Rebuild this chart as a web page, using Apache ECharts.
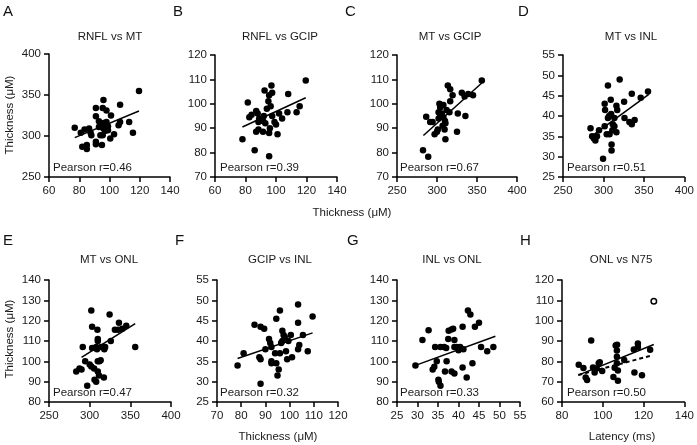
<!DOCTYPE html>
<html>
<head>
<meta charset="utf-8">
<script src="https://cdn.jsdelivr.net/npm/echarts@6/dist/echarts.min.js"></script>
<style>
html,body{margin:0;padding:0;background:#fff;}
#chart{width:697px;height:445px;}
</style>
</head>
<body>
<div id="chart"></div>
<script>
// ---------- data ----------
const panelLetters = ['A','B','C','D','E','F','G','H'];
const panelTitles = ['RNFL vs MT','RNFL vs GCIP','MT vs GCIP','MT vs INL','MT vs ONL','GCIP vs INL','INL vs ONL','ONL vs N75'];
const pearsonTexts = ['Pearson r=0.46','Pearson r=0.39','Pearson r=0.67','Pearson r=0.51','Pearson r=0.47','Pearson r=0.32','Pearson r=0.33','Pearson r=0.50'];
const xRanges = [[60,140,20],[60,140,20],[250,400,50],[250,400,50],[250,400,50],[70,120,10],[25,55,5],[80,140,20]];
const yRanges = [[250,400,50],[70,120,10],[70,120,10],[25,55,5],[80,140,10],[25,55,5],[80,140,10],[60,120,10]];
const yAxisName = 'Thickness (μM)';
const xAxisNameThickness = 'Thickness (μM)';
const xAxisNameLatency = 'Latency (ms)';

const rnflVsMt = [[77,310],[81,304],[83.5,308],[86.5,309],[87.5,304],[88,301],[82,287],[85,289],[85,284],[91,293],[91,290],[95,289],[91,334],[95.5,334],[96,344],[98,331],[107,338],[91,324],[101,325],[93,318],[96,316],[98,317],[95,313],[93,311],[96,309],[97,311],[98,310],[99,312],[97,306],[99,307],[95.5,301],[100.5,297],[103,302],[106,313],[107,317],[113,317],[115.5,304],[119.5,355],[94,301]];
const rnflVsGcip = [[78,85.5],[81.5,100.5],[82.5,94.5],[84,95.5],[87,97],[88,96],[86,81],[88.5,92.5],[87,88.5],[88.5,89.5],[91.5,93],[91.5,88.5],[92.5,105.5],[92,95],[94,98],[95,101],[95.5,103.5],[96,90],[95.5,88],[95.5,78.5],[97,107.5],[97.5,104.5],[96.5,99],[97.5,95],[99,92.5],[100,91.5],[101,87.5],[102,96],[104,94],[107.5,96.5],[108,104],[113.5,96.5],[115.5,99],[119.5,109.5],[89,94],[93,92]];
const mtVsGcip = [[282.5,81],[289,78.3],[286.5,94.7],[291.5,92.5],[294.5,92.5],[297,87.5],[300,88.5],[301,89.5],[303,100],[304,98.5],[306,99.5],[302,96.5],[304,95.5],[302,94],[308,99.5],[306,96],[308,94.5],[310,93],[310.5,92],[309.5,89.5],[310.5,85.5],[313.5,107.5],[316.5,106],[319.5,103.5],[316.5,101],[315.5,96.5],[312,97.5],[325,88.5],[326,96],[331,104.5],[334.5,103],[335.5,95],[339,104],[345,103.5],[356,109.5],[307,91]];
const mtVsInl = [[284,37],[286,35],[288,34.5],[290,34],[292,35],[294.5,36.5],[299.5,29.5],[301.5,43],[302,41.5],[301.5,37.5],[304,35.5],[307.5,35.5],[305.5,47.5],[305.5,39.5],[309,44],[309.5,40.5],[310,33],[310,31.5],[311.5,38],[313.5,37.5],[313.5,39.5],[316,36],[316,42.5],[317,41.5],[320,49],[325.5,43.5],[326,39.5],[332,38.5],[335,45.5],[335,38],[338.5,39],[346,44.5],[355,46],[307,40],[311,36.5]];
const mtVsOnl = [[283.5,95],[287.5,96.5],[290,96],[291.5,107],[294.5,100],[297,88],[300,98.5],[302,97.5],[302,125],[303,117],[303,106.5],[305.5,96.5],[308,107],[309,106],[309.5,115.5],[306,91],[308,90],[310,95],[311.5,93],[310,100],[312,100],[313.5,100.5],[310,111],[310,110],[314,107],[316,107],[318,106],[319,107],[317.5,92],[324.5,123],[326,110],[331,115.5],[335,115.5],[336,119],[340,116],[345,117.5],[356,107]];
const gcipVsInl = [[78.5,34],[81,37],[85.5,44],[87.5,36],[88,35.5],[88,43.5],[89.5,43],[88,29.5],[90,38],[91.5,40.5],[92,39.5],[92.5,38.5],[92.5,35],[92.5,34.5],[94,37],[94.5,34.5],[94.5,45.5],[95,31.5],[95.5,33],[96,47.5],[96,37],[96.5,39.5],[97,40],[97,42.5],[97.5,41.5],[98,41],[98.5,37.5],[99,35.5],[99.5,40],[100.5,41.5],[101,36],[103.5,49],[103.5,44.5],[103.5,38],[104,39],[105.5,41.5],[107.5,37.5],[109.5,46]];
const inlVsOnl = [[29.5,98],[31.2,110.5],[32.7,115.3],[33.7,96],[34.1,97.3],[34.3,107],[34.7,100],[35.1,91],[35.2,90],[35.6,88],[35.6,107],[36.5,107],[36.7,95],[37,106.5],[37.1,100],[37.5,111],[37.6,115],[38.3,115.7],[38.7,116],[38.3,95],[39,94],[39,110.5],[39,107],[39.6,107],[40,105.5],[40.4,107],[41,117],[41,97],[41.2,106],[42,92],[42.3,125],[42.9,123],[43.4,99],[44,117],[45,119],[45.5,107],[47,105],[48.5,107]];
const onlVsN75 = [[88.2,78.3],[90.5,76.7],[91.6,72],[92.3,70.8],[94.3,90.3],[95.2,77],[96,74.5],[97,76.5],[98,79],[98.5,79.5],[99.7,75.3],[105.2,72.3],[105.8,76.8],[106.3,87.8],[107,88.2],[106.9,85.3],[106.9,82.3],[106.9,79],[107.4,75.5],[107.4,70.4],[110.5,80.6],[115.2,85.8],[115.5,74.5],[117.2,88.8],[117.2,87],[119.2,73.1],[123.2,85.7]];
const onlVsN75Outlier = [[125,109.5]];

const fitA = [[77,298],[119.5,330.5]];
const fitB = [[78,90.5],[119.5,102.5]];
const fitC = [[283,87],[356,108.5]];
const fitD = [[285,35],[356,45.3]];
const fitE = [[290,102],[356,118.5]];
const fitF = [[78.5,35.7],[109.5,42]];
const fitG = [[29.5,98],[49,112.3]];
const fitH = [[88,73.2],[125,88.3]];
const fitHnoOutlier = [[88,73.3],[124.5,83]];

const scatterSets = [rnflVsMt, rnflVsGcip, mtVsGcip, mtVsInl, mtVsOnl, gcipVsInl, inlVsOnl, onlVsN75];
const fitSets = [fitA, fitB, fitC, fitD, fitE, fitF, fitG, fitH];

// ---------- layout ----------
const grids = [
  {left:49, top:54, width:121, height:123},
  {left:215, top:55, width:122, height:122},
  {left:397, top:55, width:120, height:122},
  {left:563, top:55, width:122, height:122},
  {left:49, top:280, width:122, height:122},
  {left:217, top:280, width:121, height:122},
  {left:397, top:280, width:123, height:122},
  {left:562, top:280, width:123, height:122}
];
const titlePos = [[110,37],[280,37],[450,37],[631,37],[109,260],[280,260],[452,260],[621,260]];
const letterPos = [[3,12],[173,12],[345,12],[518,12],[3,241],[175,241],[347,241],[520,241]];
const pearsonPos = [[53,168],[220,168],[400,168],[567,168],[53,393],[220,393],[400,393],[567,393]];

const FONT = '"Liberation Sans", Arial, sans-serif';
const TXT = '#1a1a1a';
const axisCommon = {
  type:'value',
  axisLine:{show:true, onZero:false, lineStyle:{color:'#000', width:1.5}},
  axisTick:{show:true, length:5, lineStyle:{color:'#000', width:1.5}},
  axisLabel:{fontSize:11.5, color:TXT, fontFamily:FONT},
  splitLine:{show:false}
};

const xAxes = xRanges.map((r,i)=>Object.assign({}, axisCommon, {
  gridIndex:i, min:r[0], max:r[1], interval:r[2],
  axisLabel:Object.assign({}, axisCommon.axisLabel, {margin:8})
}));
const yAxes = yRanges.map((r,i)=>Object.assign({}, axisCommon, {
  gridIndex:i, min:r[0], max:r[1], interval:r[2],
  axisLabel:Object.assign({}, axisCommon.axisLabel, {margin:8})
}));

const series = [];
scatterSets.forEach((d,i)=>{
  series.push({type:'line', xAxisIndex:i, yAxisIndex:i, data:fitSets[i], symbol:'none',
    lineStyle:{color:'#000', width:1.5}, z:3, silent:true, animation:false});
  series.push({type:'scatter', xAxisIndex:i, yAxisIndex:i, data:d, symbolSize:6.5,
    itemStyle:{color:'#000', opacity:1}, z:4, animation:false});
});
series.push({type:'line', xAxisIndex:7, yAxisIndex:7, data:fitHnoOutlier, symbol:'none',
  lineStyle:{color:'#000', width:2, type:[4,3]}, z:3, animation:false});
series.push({type:'scatter', xAxisIndex:7, yAxisIndex:7, data:onlVsN75Outlier, symbolSize:5.5,
  itemStyle:{color:'#fff', borderColor:'#000', borderWidth:1.5, opacity:1}, z:4, animation:false});

const graphics = [];
panelTitles.forEach((t,i)=>{
  graphics.push({type:'text', x:titlePos[i][0], y:titlePos[i][1],
    style:{text:t, fontSize:11.5, fontFamily:FONT, fill:TXT, textAlign:'center', textVerticalAlign:'middle'}});
  graphics.push({type:'text', x:letterPos[i][0], y:letterPos[i][1],
    style:{text:panelLetters[i], fontSize:15, fontFamily:FONT, fill:'#111', textAlign:'left', textVerticalAlign:'middle'}});
  graphics.push({type:'text', x:pearsonPos[i][0], y:pearsonPos[i][1],
    style:{text:pearsonTexts[i], fontSize:11.5, fontFamily:FONT, fill:TXT, textAlign:'left', textVerticalAlign:'middle'}, z:10});
});
graphics.push({type:'text', x:10, y:115, rotation:Math.PI/2,
  style:{text:yAxisName, fontSize:11.5, fontFamily:FONT, fill:TXT, textAlign:'center', textVerticalAlign:'middle'}});
graphics.push({type:'text', x:10, y:339, rotation:Math.PI/2,
  style:{text:yAxisName, fontSize:11.5, fontFamily:FONT, fill:TXT, textAlign:'center', textVerticalAlign:'middle'}});
graphics.push({type:'text', x:352, y:213,
  style:{text:xAxisNameThickness, fontSize:11.5, fontFamily:FONT, fill:TXT, textAlign:'center', textVerticalAlign:'middle'}});
graphics.push({type:'text', x:278, y:437,
  style:{text:xAxisNameThickness, fontSize:11.5, fontFamily:FONT, fill:TXT, textAlign:'center', textVerticalAlign:'middle'}});
graphics.push({type:'text', x:622, y:437,
  style:{text:xAxisNameLatency, fontSize:11.5, fontFamily:FONT, fill:TXT, textAlign:'center', textVerticalAlign:'middle'}});

const chart = echarts.init(document.getElementById('chart'), null, {renderer:'canvas'});
chart.setOption({
  backgroundColor:'#fff',
  animation:false,
  grid:grids,
  xAxis:xAxes,
  yAxis:yAxes,
  series:series,
  graphic:graphics
});
</script>
</body>
</html>
